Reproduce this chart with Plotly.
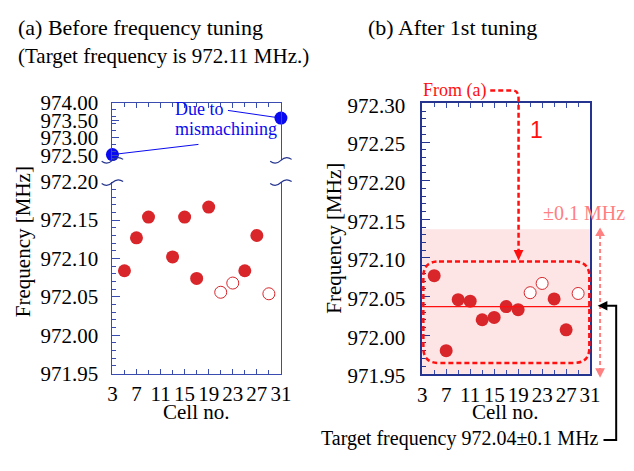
import plotly.graph_objects as go

W, H = 634, 471
SERIF = "Liberation Serif"
SANS = "Liberation Sans"

# ---------------- data ----------------
# (a) before tuning
a_cells_filled = [5, 7, 9, 13, 15, 17, 19, 25, 27]
a_freq_filled = [972.084, 972.127, 972.154, 972.102, 972.154, 972.074, 972.167, 972.084, 972.130]
a_cells_open = [21, 23, 29]
a_freq_open = [972.056, 972.068, 972.054]
a_cells_mis = [3, 31]
a_freq_mis = [972.52, 973.56]

# (b) after 1st tuning
b_cells_filled = [5, 7, 9, 11, 13, 15, 17, 19, 25, 27]
b_freq_filled = [972.077, 971.980, 972.046, 972.044, 972.020, 972.023, 972.037, 972.033, 972.047, 972.007]
b_cells_open = [21, 23, 29]
b_freq_open = [972.055, 972.067, 972.054]
target_b = 972.037
tolerance = 0.1

x_ticks = [3, 7, 11, 15, 19, 23, 27, 31]
a_low_ticks = [971.95, 972.00, 972.05, 972.10, 972.15, 972.20]
a_up_ticks = [972.50, 973.00, 973.50, 974.00]
b_ticks = [971.95, 972.00, 972.05, 972.10, 972.15, 972.20, 972.25, 972.30]

RED = "#d8262b"
BLUE = "#0a0af0"
AX = "#3a4cb0"
AXB = "#25358f"
PINK = "#ff8080"


def px(x):
    return x / W


def py(y):
    return 1 - y / H


def pt(x, y):
    return f"{px(x):.5f},{py(y):.5f}"


fig = go.Figure()

# ---- panel (a) lower ----
fig.add_trace(go.Scatter(x=a_cells_filled, y=a_freq_filled, mode="markers", xaxis="x", yaxis="y",
                         marker=dict(size=13, color=RED, line=dict(width=0)), cliponaxis=False))
fig.add_trace(go.Scatter(x=a_cells_open, y=a_freq_open, mode="markers", xaxis="x", yaxis="y",
                         marker=dict(size=12, color="white", line=dict(width=1, color=RED)), cliponaxis=False))
# ---- panel (a) upper ----
fig.add_trace(go.Scatter(x=a_cells_mis, y=a_freq_mis, mode="markers", xaxis="x2", yaxis="y2",
                         marker=dict(size=13, color=BLUE), cliponaxis=False))
# ---- panel (b) ----
fig.add_trace(go.Scatter(x=b_cells_filled, y=b_freq_filled, mode="markers", xaxis="x3", yaxis="y3",
                         marker=dict(size=13, color=RED), cliponaxis=False))
fig.add_trace(go.Scatter(x=b_cells_open, y=b_freq_open, mode="markers", xaxis="x3", yaxis="y3",
                         marker=dict(size=12, color="white", line=dict(width=1, color=RED)), cliponaxis=False))

tickfont = dict(family=SERIF, size=21, color="black")

xa_dom = [px(110), px(282.6)]
xb_dom = [px(427.3), px(599.3)]

common_x = dict(range=[3, 31], tickvals=x_ticks, ticks="inside", ticklen=5, tickcolor=AX,
                tickangle=0, ticklabelstandoff=1,
                showgrid=False, zeroline=False, showline=True,
                minor=dict(dtick=2, tick0=3, ticks="inside", ticklen=4, tickcolor=AX, showgrid=False))

fig.update_layout(
    width=W, height=H, margin=dict(l=0, r=0, t=0, b=0),
    paper_bgcolor="white", plot_bgcolor="rgba(0,0,0,0)", showlegend=False,
    xaxis=dict(domain=xa_dom, anchor="y", linecolor=AX, linewidth=1, tickfont=tickfont, **common_x),
    yaxis=dict(domain=[py(382.7), py(179.7)], anchor="x", range=[971.95, 972.20], tickvals=a_low_ticks,
               tickformat=".2f", ticks="inside", ticklen=8, tickcolor=AX, showline=True, mirror=True,
               linecolor=AX, linewidth=1, showgrid=False, zeroline=False, tickfont=tickfont,
               ticklabelstandoff=9,
               minor=dict(dtick=0.01, tick0=971.95, ticks="inside", ticklen=4, tickcolor=AX, showgrid=False)),
    xaxis2=dict(domain=xa_dom, anchor="y2", side="top", showticklabels=False, linecolor=AX, linewidth=1,
                **common_x),
    yaxis2=dict(domain=[py(157), py(96)], anchor="x2", range=[972.355, 974.0], tickvals=a_up_ticks,
                tickformat=".2f", ticks="inside", ticklen=7, tickcolor=AX, showline=True, mirror=True,
                linecolor=AX, linewidth=1, showgrid=False, zeroline=False, tickfont=tickfont,
                ticklabelstandoff=9,
                minor=dict(dtick=0.2, tick0=974.0, ticks="inside", ticklen=4, tickcolor=AX, showgrid=False)),
    xaxis3=dict(domain=xb_dom, anchor="y3", linecolor=AXB, linewidth=1.5, mirror="ticks", tickfont=tickfont,
                **common_x),
    yaxis3=dict(domain=[py(383), py(96.7)], anchor="x3", range=[971.95, 972.30], tickvals=b_ticks,
                tickformat=".2f", ticks="inside", ticklen=8, tickcolor=AXB, showline=True, mirror=True,
                linecolor=AXB, linewidth=1.5, showgrid=False, zeroline=False, tickfont=tickfont,
                ticklabelshift=2, ticklabelstandoff=11,
                minor=dict(dtick=0.01, tick0=971.95, ticks="inside", ticklen=4, tickcolor=AXB, showgrid=False)),
)

shapes = []
# tolerance band and target line in (b)
shapes.append(dict(type="rect", xref="x3 domain", yref="y3", x0=0, x1=1,
                   y0=target_b - tolerance, y1=target_b + tolerance,
                   fillcolor="#fde5e5", line=dict(width=0), layer="below"))
shapes.append(dict(type="line", xref="x3 domain", yref="y3", x0=0, x1=1, y0=target_b, y1=target_b,
                   line=dict(color="#ff1010", width=1.2)))


# break squiggles
def squiggle(xc, yc):
    return (f"M{pt(xc-11, yc+1)} C{pt(xc-7, yc+4)} {pt(xc-3, yc+3)} {pt(xc, yc)} "
            f"C{pt(xc+3, yc-3)} {pt(xc+7, yc-4)} {pt(xc+11, yc-1)}")


for xc in (110, 282.6):
    for yc in (157, 180.5):
        shapes.append(dict(type="path", xref="paper", yref="paper", path=squiggle(xc, yc),
                           line=dict(color=AXB, width=1.2)))

# blue leader lines
shapes.append(dict(type="line", xref="x2", yref="y2", x0=a_cells_mis[0], y0=a_freq_mis[0],
                   x1=17.3, y1=972.81, line=dict(color=BLUE, width=1)))
shapes.append(dict(type="line", xref="x2", yref="y2", x0=a_cells_mis[1], y0=a_freq_mis[1],
                   x1=22.2, y1=973.78, line=dict(color=BLUE, width=1)))

# dashed rounded rectangle around (b) data
x0, x1, y0, y1, r = 428.5, 598.5, 264, 371.5, 16
rr = (f"M{pt(x0+r, y0)} L{pt(x1-r, y0)} Q{pt(x1, y0)} {pt(x1, y0+r)} L{pt(x1, y1-r)} "
      f"Q{pt(x1, y1)} {pt(x1-r, y1)} L{pt(x0+r, y1)} Q{pt(x0, y1)} {pt(x0, y1-r)} "
      f"L{pt(x0, y0+r)} Q{pt(x0, y0)} {pt(x0+r, y0)} Z")
shapes.append(dict(type="path", xref="paper", yref="paper", path=rr,
                   line=dict(color="#ff1010", width=2.5, dash="5px,3px")))

# "From (a)" dashed arrow
fa = f"M{pt(497, 83)} L{pt(520, 83)} Q{pt(526, 83)} {pt(526, 92)} L{pt(526, 253)}"
shapes.append(dict(type="path", xref="paper", yref="paper", path=fa,
                   line=dict(color="#ff1010", width=2.5, dash="5px,3px")))
shapes.append(dict(type="path", xref="paper", yref="paper",
                   path=f"M{pt(521, 252)} L{pt(531, 252)} L{pt(526, 263)} Z",
                   fillcolor="#ff1010", line=dict(width=0)))

# pink double-headed dashed arrow
shapes.append(dict(type="line", xref="paper", yref="paper", x0=px(609.5), x1=px(609.5),
                   y0=py(236), y1=py(378), line=dict(color=PINK, width=2, dash="4px,3px")))
shapes.append(dict(type="path", xref="paper", yref="paper",
                   path=f"M{pt(604.5, 237)} L{pt(614.5, 237)} L{pt(609.5, 228)} Z",
                   fillcolor=PINK, line=dict(width=0)))
shapes.append(dict(type="path", xref="paper", yref="paper",
                   path=f"M{pt(604.5, 377)} L{pt(614.5, 377)} L{pt(609.5, 387)} Z",
                   fillcolor=PINK, line=dict(width=0)))

# black bracket to target text
shapes.append(dict(type="path", xref="paper", yref="paper",
                   path=f"M{pt(615, 311)} L{pt(626, 311)} L{pt(626, 453)} L{pt(613, 453)}",
                   line=dict(color="black", width=2)))
shapes.append(dict(type="path", xref="paper", yref="paper",
                   path=f"M{pt(617, 306)} L{pt(617, 316)} L{pt(607, 311)} Z",
                   fillcolor="black", line=dict(width=0)))

fig.update_layout(shapes=shapes)

ann = []


def txt(x, y, s, size=21, color="black", family=SERIF, xanchor="left", angle=0):
    ann.append(dict(xref="paper", yref="paper", x=px(x), y=py(y), text=s, showarrow=False,
                    xanchor=xanchor, yanchor="middle", textangle=angle,
                    font=dict(family=family, size=size, color=color)))


txt(11, 16, "(a) Before frequency tuning", size=22)
txt(11, 47, "(Target frequency is 972.11 MHz.)", size=21)
txt(370, 16, "(b) After 1st tuning", size=22)
txt(18, 243, "Frequency [MHz]", size=21, xanchor="center", angle=-90)
txt(337, 240, "Frequency [MHz]", size=21, xanchor="center", angle=-90)
txt(196, 423, "Cell no.", size=21, xanchor="center")
txt(513, 423, "Cell no.", size=21, xanchor="center")
txt(172, 103, "Due to", size=18, color=BLUE)
txt(172, 124, "mismachining", size=18, color=BLUE)
txt(426, 83, "From (a)", size=18, color="#ff1010")
txt(536, 125, "1", size=23, color="#ff1010", family=SANS)
txt(549, 213, "±0.1 MHz", size=20, color=PINK)
txt(322, 451, "Target frequency 972.04±0.1 MHz", size=20)

fig.update_layout(annotations=ann)

fig.write_html("out.html")
